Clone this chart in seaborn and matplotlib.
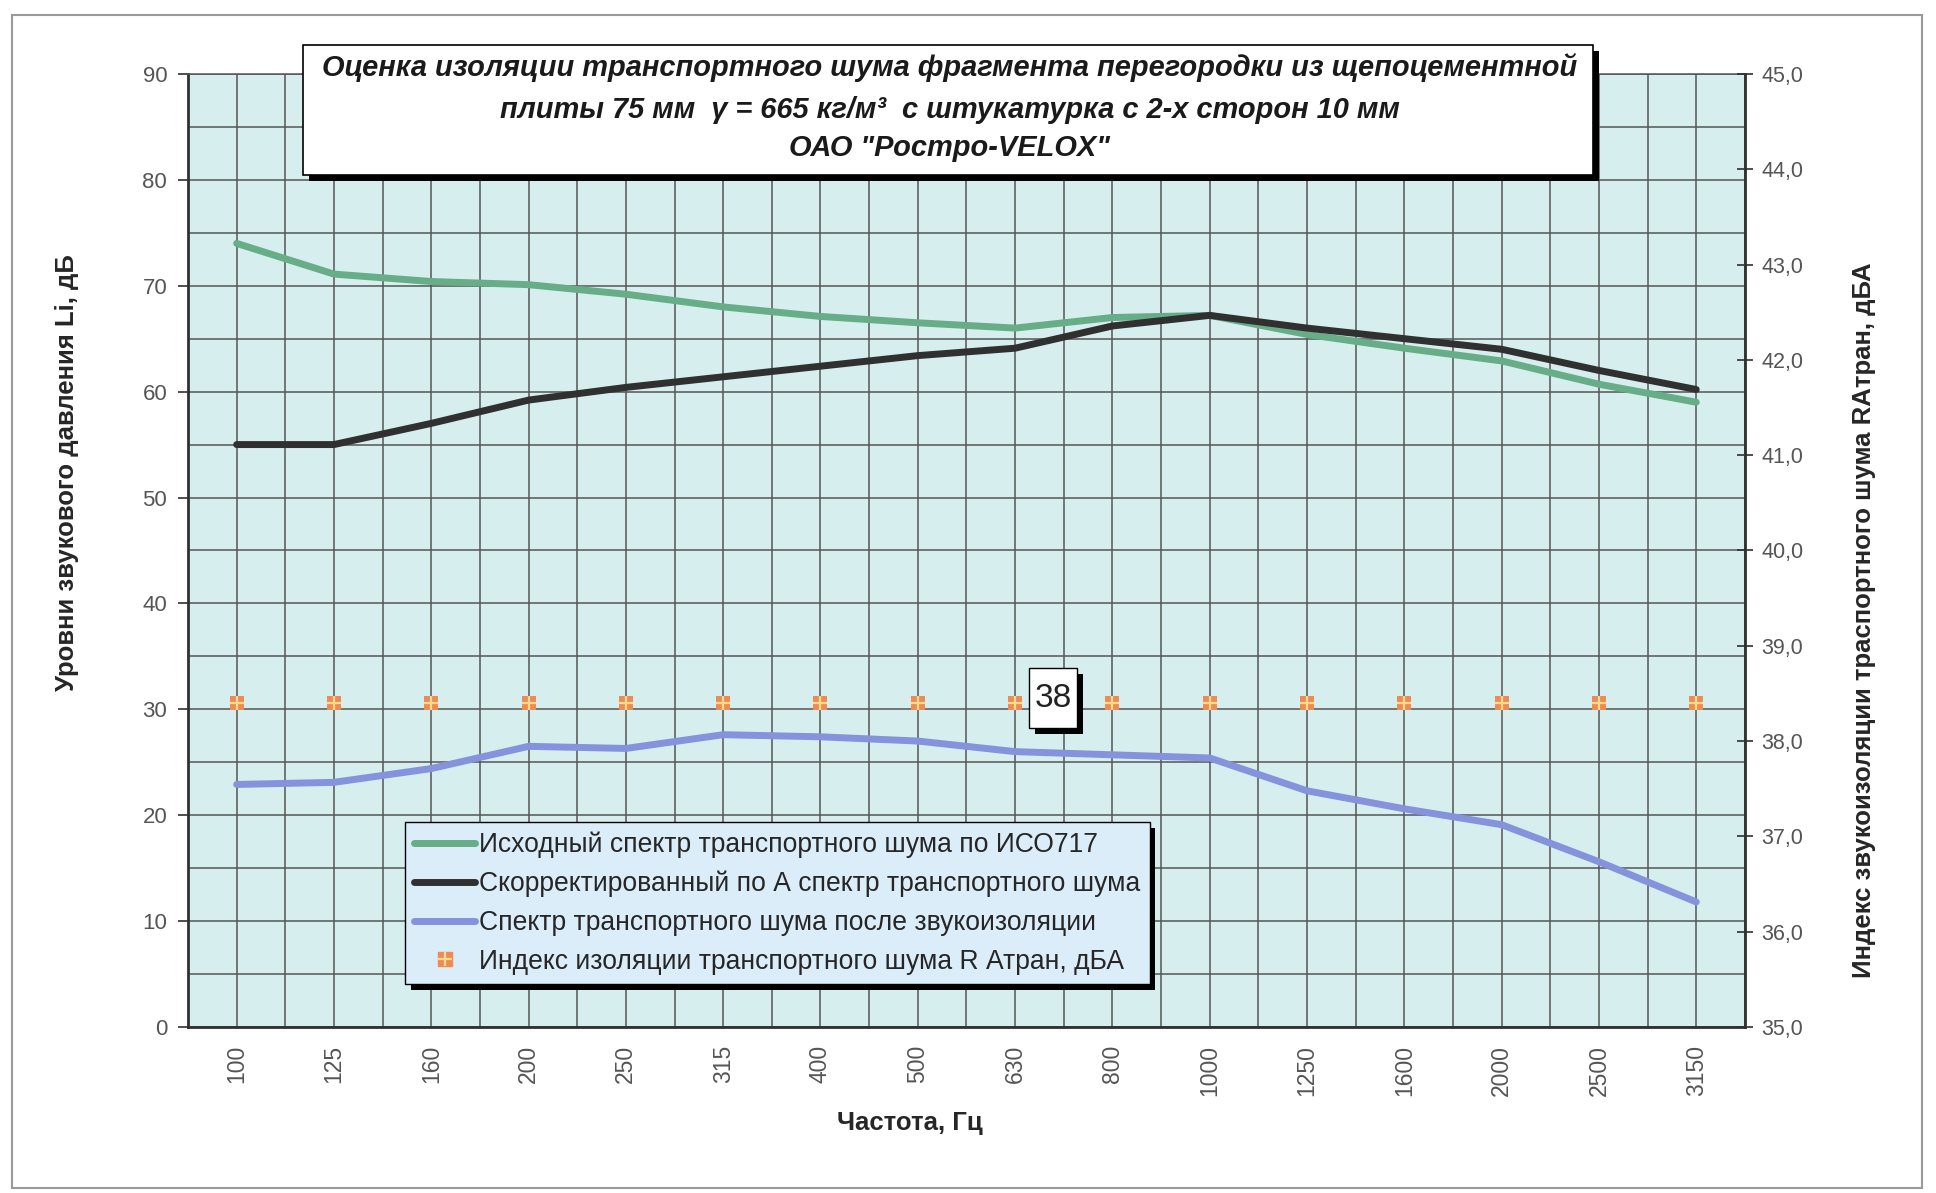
import numpy as np
import pandas as pd
import matplotlib
matplotlib.use("Agg")
import matplotlib.pyplot as plt
import matplotlib.patheffects as pe
import matplotlib.transforms as mtransforms
from matplotlib.patches import Rectangle
from matplotlib.lines import Line2D
import seaborn as sns

# частоты третьоктавных полос, Гц
freqs = ['100', '125', '160', '200', '250', '315', '400', '500',
         '630', '800', '1000', '1250', '1600', '2000', '2500', '3150']

# уровни, дБ (левая ось)
spectr_iso = [74.0, 71.1, 70.4, 70.1, 69.2, 68.0, 67.1, 66.5,
              66.0, 67.0, 67.2, 65.4, 64.1, 62.9, 60.7, 59.0]
spectr_a = [55.0, 55.0, 57.0, 59.2, 60.4, 61.4, 62.4, 63.4,
            64.1, 66.2, 67.2, 66.0, 65.0, 64.0, 62.0, 60.2]
spectr_after = [22.9, 23.1, 24.4, 26.5, 26.3, 27.6, 27.4, 27.0,
                26.0, 25.7, 25.4, 22.3, 20.6, 19.1, 15.6, 11.8]

# индекс RAтран, дБА (правая ось)
r_index = [38.4, 38.4, 38.4, 38.4, 38.4, 38.4, 38.4, 38.4,
           38.4, 38.4, 38.4, 38.4, 38.4, 38.4, 38.4, 38.4]
r_label = '38'

left_ticks = [0, 10, 20, 30, 40, 50, 60, 70, 80, 90]
right_ticks = [35.0, 36.0, 37.0, 38.0, 39.0, 40.0, 41.0, 42.0, 43.0, 44.0, 45.0]

legend_labels = ['Исходный спектр транспортного шума по ИСО717',
                 'Скорректированный по А спектр транспортного шума',
                 'Спектр транспортного шума после звукоизоляции',
                 'Индекс изоляции транспортного шума R Атран, дБА']

title_lines = ['Оценка изоляции транспортного шума фрагмента перегородки из щепоцементной',
               'плиты 75 мм  γ = 665 кг/м³  с штукатурка с 2-х сторон 10 мм',
               'ОАО "Ростро-VELOX"']

GREEN = '#66ad88'
BLACK = '#303030'
BLUE = '#8592dc'
ORANGE = '#f08a55'
CROSS = '#f7dc8c'
BG = '#d6eeee'
GRID = '#555555'
TICKC = '#555555'

sns.set_style('white')
plt.rcParams['font.family'] = ['Liberation Sans', 'DejaVu Sans']

df = pd.DataFrame({'pos': np.arange(len(freqs)), 'freq': freqs,
                   'iso': spectr_iso, 'a': spectr_a, 'after': spectr_after,
                   'r': r_index})

fig = plt.figure(figsize=(19.36, 11.93), dpi=100)
ax = fig.add_axes([0.0971, 0.1392, 0.8042, 0.7988])
ax.set_facecolor(BG)

line_kw = dict(solid_capstyle='round', solid_joinstyle='round', legend=False)
sns.lineplot(data=df, x='pos', y='iso', ax=ax, color=GREEN, lw=5, **line_kw)
sns.lineplot(data=df, x='pos', y='a', ax=ax, color=BLACK, lw=5, **line_kw)
sns.lineplot(data=df, x='pos', y='after', ax=ax, color=BLUE, lw=5, **line_kw)

ax.set_xlim(-0.5, len(freqs) - 0.5)
ax.set_ylim(0, 90)
ax.set_yticks(left_ticks)
ax.set_yticks(np.arange(5, 90, 10), minor=True)
ax.set_xticks(df['pos'])
ax.set_xticklabels(freqs, rotation=90)
ax.set_xticks(np.arange(-0.5, len(freqs), 1), minor=True)
ax.grid(True, which='both', color=GRID, lw=1.1)
ax.set_axisbelow(True)
ax.tick_params(axis='y', which='major', direction='out', length=7, width=1.2,
               color=BLACK, labelsize=16, labelcolor=TICKC, pad=8)
ax.tick_params(axis='y', which='minor', length=0)
ax.tick_params(axis='x', which='major', length=0, labelsize=16.5, labelcolor=TICKC, pad=13)
ax.tick_params(axis='x', which='minor', direction='out', length=8, width=1.2, color=BLACK)
for side in ['left', 'bottom', 'right']:
    ax.spines[side].set_color(BLACK)
    ax.spines[side].set_linewidth(2)
ax.spines['top'].set_color(GRID)
ax.spines['top'].set_linewidth(1.1)

ax.set_xlabel('Частота, Гц', fontsize=18.5, fontweight='bold')
ax.set_ylabel('Уровни звукового давления Li, дБ', fontsize=18.5, fontweight='bold')
ax.xaxis.set_label_coords(0.4637, -0.088)
ax.yaxis.set_label_coords(-0.070, 0.582)

ax2 = ax.twinx()
sns.scatterplot(data=df, x='pos', y='r', ax=ax2, marker='s', s=110,
                color=ORANGE, linewidth=0, legend=False, zorder=4)
sns.scatterplot(data=df, x='pos', y='r', ax=ax2, marker='+', s=110,
                color=CROSS, linewidth=1.6, legend=False, zorder=5)
ax2.set_ylim(35, 45)
ax2.set_yticks(right_ticks)
ax2.set_yticklabels([f'{v:.1f}'.replace('.', ',') for v in right_ticks])
ax2.tick_params(axis='y', direction='inout', length=12, width=1.2, color=BLACK,
                labelsize=15.5, labelcolor=TICKC, pad=6)
ax2.set_ylabel('Индекс звукоизоляции траспортного шума RAтран, дБА',
               fontsize=18.5, fontweight='bold')
ax2.yaxis.set_label_coords(1.069, 0.427)
for s in ax2.spines.values():
    s.set_visible(False)

shadow = [pe.SimplePatchShadow(offset=(4, -4), shadow_rgbFace='black', alpha=1.0), pe.Normal()]

# подпись значения индекса: рамка 0.48x0.60 дюйма рядом с точкой 630 Гц
lx, ly = df['pos'][8] + 0.39, r_index[8] + 0.05
lab_tr = fig.dpi_scale_trans + mtransforms.ScaledTranslation(lx, ly, ax2.transData)
lab_box = Rectangle((-0.24, -0.30), 0.48, 0.60, transform=lab_tr, fc='white',
                    ec='black', lw=1, zorder=6, path_effects=shadow)
ax2.add_patch(lab_box)
ax2.text(lx, ly, r_label, fontsize=24, ha='center', va='center',
         color='#222222', zorder=7)

# легенда
handles = [Line2D([], [], color=GREEN, lw=5),
           Line2D([], [], color=BLACK, lw=5),
           Line2D([], [], color=BLUE, lw=5),
           (Line2D([], [], ls='', marker='s', ms=10, mfc=ORANGE, mec=ORANGE),
            Line2D([], [], ls='', marker='+', ms=10, mec=CROSS, mew=1.6))]
leg = ax2.legend(handles, legend_labels, loc='lower left',
                 bbox_to_anchor=(0.1394, 0.0451), borderaxespad=0,
                 fontsize=19.1, frameon=True, fancybox=False, framealpha=1,
                 facecolor='#dcedfa', edgecolor='black', handlelength=2.3,
                 handletextpad=0.15, labelspacing=0.48, borderpad=0.35)
leg.get_frame().set_linewidth(1)
leg.get_frame().set_path_effects(shadow)
leg.set_zorder(10)

# заголовок в рамке
box = Rectangle((303 / 1936, 1 - 175 / 1193), 1290 / 1936, 130 / 1193,
                transform=fig.transFigure, fc='white', ec='black', lw=1.2,
                zorder=5, path_effects=shadow)
fig.patches.append(box)
for txt, yy in zip(title_lines, [0.9438, 0.9078, 0.8760]):
    fig.text(0.4905, yy, txt, ha='center', va='center', fontsize=20.9,
             fontweight='bold', fontstyle='italic', color='#1a1a1a', zorder=6)

# внешняя рамка
fig.patches.append(Rectangle((12 / 1936, 1 - 1188 / 1193), 1910 / 1936, 1173 / 1193,
                             transform=fig.transFigure, fill=False, ec='#9a9a9a',
                             lw=1.5, zorder=0))

fig.savefig('out.png', dpi=100, facecolor='white')
